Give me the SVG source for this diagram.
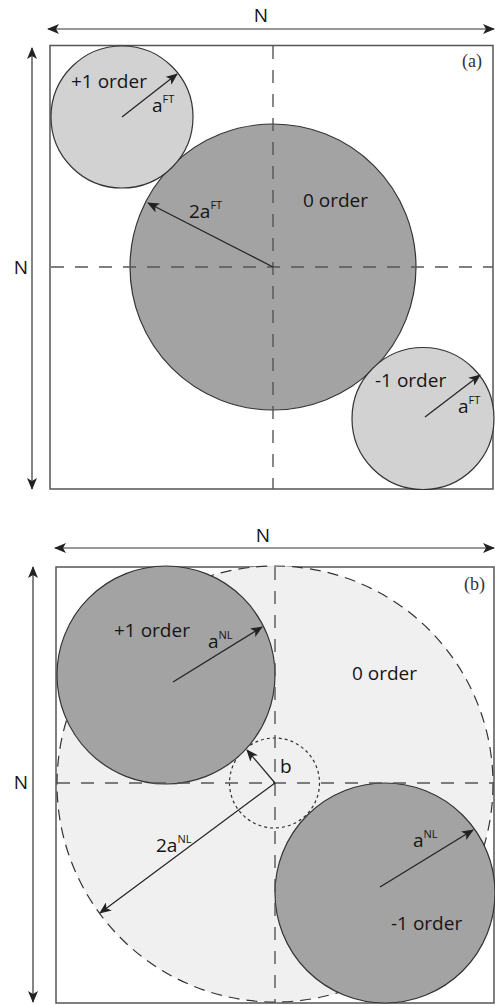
<svg xmlns="http://www.w3.org/2000/svg" width="495" height="1005" viewBox="0 0 495 1005">
<style>
.lbl{font-family:"Open Sans","Liberation Sans",sans-serif;font-size:19px;fill:#151515}
.sup{font-size:11px}
.tag{font-family:"Liberation Serif",serif;font-size:18px;fill:#333}
.box{fill:none;stroke:#555;stroke-width:1.5}
.axis{stroke:#555;stroke-width:1.4;stroke-dasharray:13 11;fill:none}
.dark{fill:#a3a3a3;stroke:#333;stroke-width:1.2}
.light{fill:#d2d2d2;stroke:#333;stroke-width:1.2}
.arr{stroke:#222;stroke-width:1.2;fill:none}
.dim{stroke:#333;stroke-width:1.2;fill:none}
</style>
<defs>
<marker id="ah" markerUnits="userSpaceOnUse" markerWidth="12" markerHeight="10" refX="11" refY="5" orient="auto-start-reverse" viewBox="0 0 12 10">
<path d="M0,0 L12,5 L0,10 L3,5 Z" fill="#222"/>
</marker>
</defs>
<rect width="495" height="1005" fill="#fff"/>

<g id="panel-a">
<g id="dims-a">
<line class="dim" x1="48" y1="29" x2="494" y2="29" marker-start="url(#ah)" marker-end="url(#ah)"/>
<text class="lbl" x="261" y="22" text-anchor="middle">N</text>
<line class="dim" x1="32" y1="48" x2="32" y2="489" marker-start="url(#ah)" marker-end="url(#ah)"/>
<text class="lbl" x="21" y="274" text-anchor="middle">N</text>
</g>
<rect id="box-a" class="box" x="50" y="45.5" width="443" height="443.5"/>
<g id="zero-a"><circle class="dark" cx="273" cy="267" r="143"/>
<text class="lbl" x="303" y="207">0 order</text></g>
<g id="plus1-a"><circle class="light" cx="122" cy="117" r="71"/>
<text class="lbl" x="71" y="88">+1 order</text>
<text class="lbl" x="152" y="112">a<tspan class="sup" dy="-9">FT</tspan></text></g>
<g id="minus1-a"><circle class="light" cx="423" cy="418.5" r="71"/>
<text class="lbl" x="375" y="387">-1 order</text>
<text class="lbl" x="458" y="413">a<tspan class="sup" dy="-9">FT</tspan></text></g>
<g id="axes-a">
<line class="axis" x1="273" y1="46" x2="273" y2="489"/>
<line class="axis" x1="51" y1="267" x2="493" y2="267"/>
</g>
<g id="connectors-a">
<line class="arr" x1="122" y1="117" x2="177" y2="74" marker-end="url(#ah)"/>
<line class="arr" x1="273" y1="267" x2="148" y2="203" marker-end="url(#ah)"/>
<line class="arr" x1="425" y1="417" x2="480" y2="375" marker-end="url(#ah)"/>
</g>
<text class="lbl" x="189" y="218">2a<tspan class="sup" dy="-9">FT</tspan></text>
<text class="tag" x="462" y="67">(a)</text>
</g>

<g id="panel-b">
<g id="dims-b">
<line class="dim" x1="55" y1="548" x2="494" y2="548" marker-start="url(#ah)" marker-end="url(#ah)"/>
<text class="lbl" x="263" y="542" text-anchor="middle">N</text>
<line class="dim" x1="33" y1="567" x2="33" y2="1002" marker-start="url(#ah)" marker-end="url(#ah)"/>
<text class="lbl" x="21" y="789" text-anchor="middle">N</text>
</g>
<rect id="box-b" class="box" x="56" y="567" width="438" height="436"/>
<g id="zero-b"><circle cx="275" cy="784" r="218" fill="#f0f0f0" stroke="#333" stroke-width="1.2" stroke-dasharray="11 7"/>
<text class="lbl" x="352" y="680">0 order</text></g>
<g id="b-circle"><circle cx="274.5" cy="783" r="45" fill="none" stroke="#333" stroke-width="1.2" stroke-dasharray="3 3"/></g>
<g id="plus1-b"><circle class="dark" cx="166" cy="675" r="109"/>
<text class="lbl" x="114" y="637">+1 order</text>
<text class="lbl" x="208" y="648">a<tspan class="sup" dy="-9">NL</tspan></text></g>
<g id="minus1-b"><circle class="dark" cx="385" cy="893" r="110"/>
<text class="lbl" x="391" y="930">-1 order</text>
<text class="lbl" x="413" y="847">a<tspan class="sup" dy="-9">NL</tspan></text></g>
<g id="axes-b">
<line class="axis" x1="275" y1="567" x2="275" y2="1003"/>
<line class="axis" x1="57" y1="783" x2="494" y2="783"/>
</g>
<g id="connectors-b">
<line class="arr" x1="173" y1="682" x2="262" y2="627" marker-end="url(#ah)"/>
<line class="arr" x1="275" y1="783" x2="247" y2="750" marker-end="url(#ah)"/>
<line class="arr" x1="275" y1="783" x2="100" y2="913" marker-end="url(#ah)"/>
<line class="arr" x1="380" y1="887" x2="473" y2="830" marker-end="url(#ah)"/>
</g>
<text class="lbl" x="280" y="773">b</text>
<text class="lbl" x="156" y="852">2a<tspan class="sup" dy="-9">NL</tspan></text>
<text class="tag" x="464" y="590">(b)</text>
</g>
</svg>
